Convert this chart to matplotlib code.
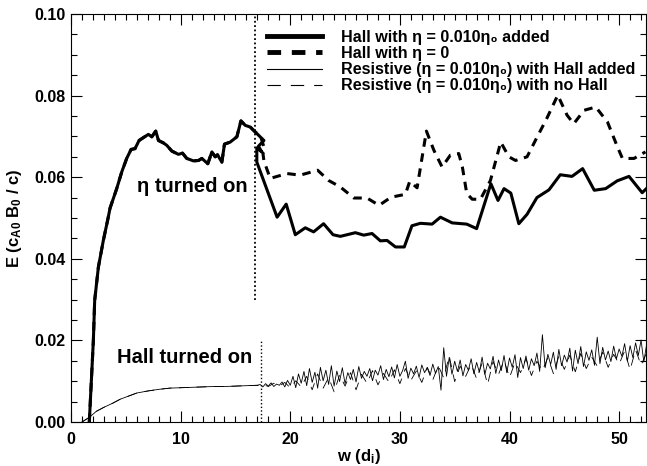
import numpy as np
import matplotlib
matplotlib.use("Agg")
import matplotlib.pyplot as plt
from matplotlib.ticker import MultipleLocator, FormatStrFormatter

plt.rcParams['font.family'] = ['Liberation Sans', 'DejaVu Sans']
plt.rcParams['font.weight'] = 'bold'
plt.rcParams['axes.labelweight'] = 'bold'
plt.rcParams['mathtext.default'] = 'regular'

# shared early phase of the two Hall runs (before eta is switched on)
hall_early_x = [1.67, 2.04, 2.16, 2.5, 2.95, 3.4, 3.56, 4.17, 4.63, 5.08,
                5.48, 5.84, 6.21, 6.6, 7.06, 7.37, 7.73, 7.98, 8.43, 8.74,
                9.2, 9.8, 10.17, 10.56, 11.17, 11.63, 11.94, 12.48, 12.85, 13.15,
                13.36, 13.76, 14.0, 14.52, 15.13, 15.5, 15.9, 16.35, 16.8]
hall_early_y = [0.0, 0.020, 0.0298, 0.038, 0.0445, 0.0502, 0.0524, 0.0572, 0.0613, 0.0646,
                0.0668, 0.0670, 0.0690, 0.0697, 0.0705, 0.0699, 0.0713, 0.0690, 0.0684, 0.0678,
                0.0664, 0.0656, 0.0659, 0.0646, 0.0640, 0.0641, 0.0646, 0.0633, 0.0662, 0.0650,
                0.0655, 0.0637, 0.0681, 0.0686, 0.0699, 0.0738, 0.0727, 0.0723, 0.0711]

# Hall with eta added
hall_eta_x = [17.6, 17.1, 17.4, 16.95, 16.95, 18.8, 19.63, 20.46, 21.37, 22.13,
              23.04, 23.9, 24.57, 25.94, 26.7, 27.46, 28.22, 28.83, 29.6, 30.4,
              31.1, 31.87, 32.94, 33.7, 34.77, 36.1, 37.0, 38.3, 38.95, 39.5,
              40.12, 40.85, 41.6, 42.5, 43.6, 44.63, 45.7, 46.67, 47.73, 48.77,
              49.82, 50.9, 52.1, 52.6]
hall_eta_y = [0.0690, 0.0676, 0.0662, 0.0672, 0.0637, 0.0502, 0.0534, 0.0459, 0.0476, 0.0466,
              0.0486, 0.0459, 0.0455, 0.0464, 0.0458, 0.0462, 0.0444, 0.0445, 0.0429, 0.0429,
              0.0481, 0.0487, 0.0485, 0.0502, 0.0488, 0.0485, 0.0474, 0.0584, 0.0543, 0.0572,
              0.0561, 0.0486, 0.0509, 0.0550, 0.0569, 0.0606, 0.0602, 0.0621, 0.0568, 0.0572,
              0.0591, 0.0602, 0.0562, 0.0575]

# Hall with eta = 0
hall_x = [17.3, 17.7, 17.5, 17.6, 18.17, 19.7, 20.9, 22.5, 23.5, 24.57,
          25.8, 27.0, 28.1, 29.2, 30.5, 30.9, 31.57, 32.42, 33.1, 33.85,
          34.6, 35.37, 35.7, 36.1, 36.6, 37.35, 38.26, 39.2, 39.94, 40.55,
          41.6, 42.53, 43.4, 44.4, 45.25, 45.86, 46.8, 47.87, 48.94, 49.85,
          50.3, 51.36, 52.4]
hall_y = [0.0700, 0.0665, 0.0660, 0.0640, 0.0597, 0.0609, 0.0605, 0.0617, 0.0592, 0.0576,
          0.0549, 0.0549, 0.0531, 0.0551, 0.0558, 0.0590, 0.0574, 0.0713, 0.0666, 0.0625,
          0.0654, 0.0658, 0.0625, 0.0560, 0.0546, 0.0546, 0.0592, 0.0686, 0.0650, 0.0641,
          0.0650, 0.0699, 0.0744, 0.0801, 0.0752, 0.0731, 0.0764, 0.0772, 0.0735, 0.0674,
          0.0646, 0.0646, 0.0662]

# resistive runs, shared early phase
res_early_x = [1.0, 1.7, 2.3, 3.0, 3.8, 4.5, 5.3, 6.0, 7.0, 8.0,
               9.0, 10.0, 11.0, 12.0, 13.0, 14.0, 15.0, 16.0, 17.0]
res_early_y = [0.0, 0.0012, 0.0026, 0.0036, 0.0046, 0.0056, 0.0064, 0.0071, 0.0076, 0.0080,
               0.0083, 0.0084, 0.0085, 0.0086, 0.0087, 0.0087, 0.0088, 0.0089, 0.0090]

# resistive with Hall added (every 0.25 from 17.25)
res_hall_y = [0.0092, 0.0086, 0.0094, 0.0088, 0.0096, 0.0087, 0.0093, 0.0090,
              0.0098, 0.0086, 0.0102, 0.0090, 0.0112, 0.0084, 0.0118, 0.0095,
              0.0124, 0.0089, 0.0131, 0.0097, 0.0122, 0.0083, 0.0134, 0.0101,
              0.0127, 0.0092, 0.0138, 0.0088, 0.0125, 0.0099, 0.0133, 0.0094,
              0.0121, 0.0104, 0.0129, 0.0098, 0.0136, 0.0107, 0.0124, 0.0112,
              0.0131, 0.0101, 0.0127, 0.0115, 0.0138, 0.0104, 0.0129, 0.0111,
              0.0135, 0.0108, 0.0141, 0.0112, 0.0126, 0.0149, 0.0107, 0.0132,
              0.0118, 0.0137, 0.0109, 0.0140, 0.0121, 0.0133, 0.0114, 0.0142,
              0.0119, 0.0136, 0.0078, 0.0182, 0.0112, 0.0158, 0.0117, 0.0149,
              0.0124, 0.0152, 0.0113, 0.0141, 0.0127, 0.0155, 0.0118, 0.0146,
              0.0122, 0.0159, 0.0117, 0.0144, 0.0130, 0.0161, 0.0119, 0.0152,
              0.0126, 0.0163, 0.0121, 0.0157, 0.0134, 0.0165, 0.0109, 0.0158,
              0.0131, 0.0162, 0.0127, 0.0155, 0.0138, 0.0169, 0.0124, 0.0214,
              0.0133, 0.0166, 0.0141, 0.0171, 0.0129, 0.0178, 0.0138, 0.0164,
              0.0147, 0.0181, 0.0125, 0.0176, 0.0143, 0.0185, 0.0136, 0.0172,
              0.0151, 0.0177, 0.0139, 0.0208, 0.0143, 0.0183, 0.0152, 0.0174,
              0.0148, 0.0186, 0.0155, 0.0179, 0.0161, 0.0192, 0.0149, 0.0187,
              0.0158, 0.0194, 0.0163, 0.0201, 0.0147, 0.0189]
res_hall_x = 17.25 + 0.25 * np.arange(len(res_hall_y))

# resistive with no Hall (every 0.5 from 17.0)
res_y = [0.0089, 0.0092, 0.0087, 0.0095, 0.0088, 0.0097, 0.0084, 0.0101,
         0.0086, 0.0112, 0.0079, 0.0118, 0.0083, 0.0109, 0.0074, 0.0115,
         0.0088, 0.0121, 0.0079, 0.0117, 0.0095, 0.0126, 0.0091, 0.0119,
         0.0098, 0.0128, 0.0094, 0.0131, 0.0102, 0.0125, 0.0097, 0.0134,
         0.0103, 0.0138, 0.0108, 0.0162, 0.0099, 0.0137, 0.0112, 0.0141,
         0.0106, 0.0144, 0.0092, 0.0148, 0.0117, 0.0151, 0.0109, 0.0146,
         0.0121, 0.0155, 0.0114, 0.0149, 0.0126, 0.0158, 0.0119, 0.0161,
         0.0129, 0.0164, 0.0123, 0.0168, 0.0131, 0.0159, 0.0137, 0.0171,
         0.0134, 0.0166, 0.0142, 0.0174, 0.0128, 0.0177, 0.0139, 0.0169]
res_x = 17.0 + 0.5 * np.arange(len(res_y))

eta_on = 16.8
hall_on = 17.3

fig = plt.figure(figsize=(6.47, 4.66), dpi=100)
ax = fig.add_axes([71 / 647, 44 / 466, 575 / 647, 408 / 466])

thick = 2.2
thin = 0.6
ax.plot(hall_early_x + hall_eta_x, hall_early_y + hall_eta_y, color='black', lw=thick,
        label='Hall with η = 0.010η₀ added')
ax.plot(hall_early_x + hall_x, hall_early_y + hall_y, color='black', lw=thick,
        dashes=(2.8, 2.2), label='Hall with η = 0')
ax.plot(res_early_x + list(res_hall_x), res_early_y + res_hall_y, color='black', lw=thin,
        label='Resistive (η = 0.010η₀) with Hall added')
ax.plot(res_early_x + list(res_x), res_early_y + res_y, color='black', lw=thin,
        dashes=(12, 9), label='Resistive (η = 0.010η₀) with no Hall')

ax.plot([eta_on, eta_on], [0.03, 0.1], color='black', lw=1.3, dashes=(1, 1.4))
ax.plot([hall_on, hall_on], [0.0, 0.02], color='black', lw=1.0, dashes=(1, 1.6))

ax.text(11.1, 0.0576, 'η turned on', fontsize=14.5, ha='center', va='center')
ax.text(10.4, 0.0159, 'Hall turned on', fontsize=14.5, ha='center', va='center')

ax.set_xlim(0, 52.45)
ax.set_ylim(0, 0.1)
ax.xaxis.set_major_locator(MultipleLocator(10))
ax.xaxis.set_minor_locator(MultipleLocator(1))
ax.yaxis.set_major_locator(MultipleLocator(0.02))
ax.yaxis.set_minor_locator(MultipleLocator(0.005))
ax.yaxis.set_major_formatter(FormatStrFormatter('%.2f'))
ax.tick_params(which='both', direction='in', top=True, right=True, width=0.8)
ax.tick_params(which='major', length=8)
ax.tick_params(which='minor', length=4)
ax.tick_params(axis='x', which='major', pad=7, labelsize=11.5)
ax.tick_params(axis='y', which='major', pad=4, labelsize=11.5)
for s in ax.spines.values():
    s.set_linewidth(0.8)

ax.set_xlabel('w (d$_i$)', fontsize=12, labelpad=0)
ax.set_ylabel('E (c$_{A0}$ B$_0$ / c)', fontsize=12, labelpad=7)

leg = ax.legend(loc='upper left', bbox_to_anchor=(0.341, 0.961), frameon=False,
                fontsize=11.6, handlelength=3.4, handletextpad=1.2, labelspacing=0.07,
                borderpad=0, borderaxespad=0)
leg.get_lines()[0].set_linewidth(3.5)
leg.get_lines()[1].set_linewidth(3.5)
leg.get_lines()[2].set_linewidth(0.8)
leg.get_lines()[3].set_linewidth(0.8)

fig.savefig('out.png', dpi=100)
